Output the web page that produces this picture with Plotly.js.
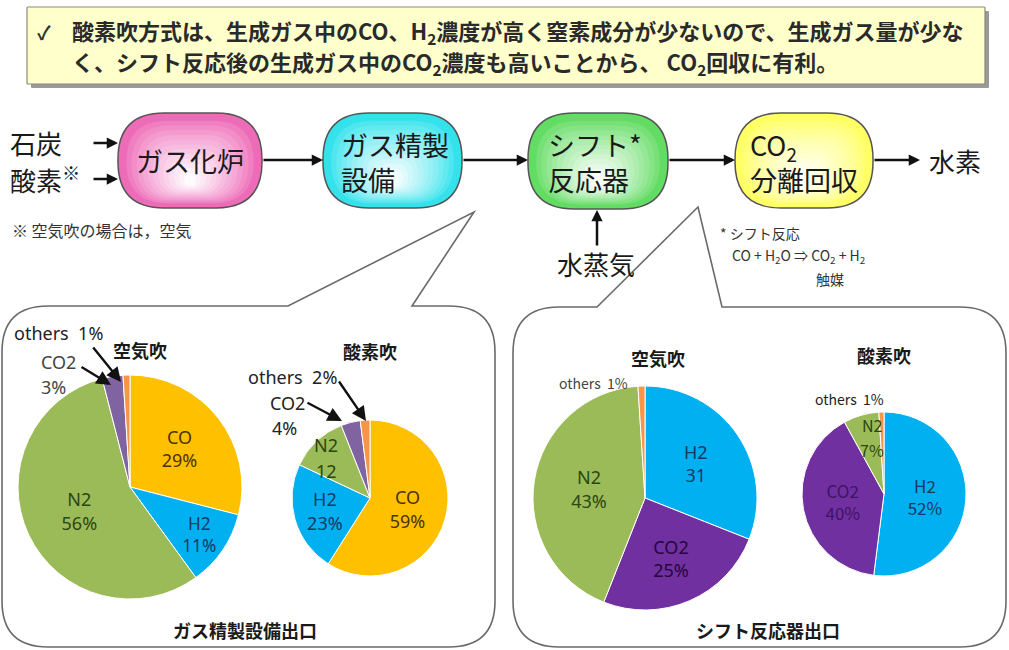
<!DOCTYPE html>
<html><head><meta charset="utf-8">
<script src="https://cdn.plot.ly/plotly-3.0.1.min.js"></script>
<style>body{margin:0;background:#fff}#chart{width:1009px;height:650px}</style>
</head><body><div id="chart"></div>
<script>
// ---- data ----
const pieLabelsRefine = ["CO", "H2", "N2", "CO2", "others"];
const refineAirValues = [29, 11, 56, 3, 1];
const refineAirText = ["CO<br>29%", "H2<br>11%", "N2<br>56%", "", ""];
const refineOxyValues = [59, 23, 12, 4, 2];
const refineOxyText = ["CO<br>59%", "H2<br>23%", "", "", ""];
const pieLabelsShift = ["H2", "CO2", "N2", "others"];
const shiftAirValues = [31, 25, 43, 1];
const shiftAirText = ["H2<br>31", "CO2<br>25%", "N2<br>43%", ""];
const shiftOxyValues = [52, 40, 7, 1];
const shiftOxyText = ["H2<br>52%", "CO2<br>40%", "", ""];
const pieTitles = ["空気吹", "酸素吹", "空気吹", "酸素吹"];
const groupTitles = ["ガス精製設備出口", "シフト反応器出口"];
const processSteps = ["ガス化炉", "ガス精製<br>設備", "シフト*<br>反応器", "CO<sub>2</sub><br>分離回収"];
const noteText = ["✓", "酸素吹方式は、生成ガス中のCO、H<sub>2</sub>濃度が高く窒素成分が少ないので、生成ガス量が少な",
  "く、シフト反応後の生成ガス中のCO<sub>2</sub>濃度も高いことから、 CO<sub>2</sub>回収に有利。"];

// ---- helpers ----
const W = 1009, H = 650;
const X = x => x / W, Y = y => 1 - y / H;
const JP = '"Noto Sans CJK JP", sans-serif';
const LAT = '"Noto Sans", "Liberation Sans", sans-serif';

function rr(x0, y0, x1, y1, r) {
  const p = (x, y) => X(x) + ',' + Y(y);
  return 'M' + p(x0 + r, y0) + ' L' + p(x1 - r, y0) + ' Q' + p(x1, y0) + ' ' + p(x1, y0 + r) +
    ' L' + p(x1, y1 - r) + ' Q' + p(x1, y1) + ' ' + p(x1 - r, y1) +
    ' L' + p(x0 + r, y1) + ' Q' + p(x0, y1) + ' ' + p(x0, y1 - r) +
    ' L' + p(x0, y0 + r) + ' Q' + p(x0, y0) + ' ' + p(x0 + r, y0) + ' Z';
}
function callout(x0, y0, x1, y1, r, b0, b1, ax, ay) {
  const p = (x, y) => X(x) + ',' + Y(y);
  return 'M' + p(b0, y0) + ' L' + p(x0 + r, y0) + ' Q' + p(x0, y0) + ' ' + p(x0, y0 + r) +
    ' L' + p(x0, y1 - r) + ' Q' + p(x0, y1) + ' ' + p(x0 + r, y1) +
    ' L' + p(x1 - r, y1) + ' Q' + p(x1, y1) + ' ' + p(x1, y1 - r) +
    ' L' + p(x1, y0 + r) + ' Q' + p(x1, y0) + ' ' + p(x1 - r, y0) +
    ' L' + p(b1, y0) + ' L' + p(ax, ay) + ' Z';
}
function hex2rgb(h) { return [1, 3, 5].map(i => parseInt(h.substr(i, 2), 16)); }
function lerp(c, t) { const a = hex2rgb(c); return 'rgb(' + a.map(v => Math.round(v + (255 - v) * t)).join(',') + ')'; }

const shapes = [];
// note box with shadow
shapes.push({type: 'path', path: rr(31, 11, 989, 88, 1), fillcolor: '#9a9a9a', line: {width: 0}, layer: 'below'});
shapes.push({type: 'path', path: rr(27, 7, 985, 84, 1), fillcolor: '#FFFFCC', line: {color: '#8a8a7a', width: 1.2}, layer: 'below'});

// process boxes with stepped gradient
const boxes = [[118, 113, 262, 208, '#EE6BB8'], [323, 113, 462, 208, '#34E2EC'], [528, 113, 668, 209, '#62DC62'], [735, 113, 873, 208, '#FFFF66']];
boxes.forEach(([x0, y0, x1, y1, c]) => {
  const R = 46;
  shapes.push({type: 'path', path: rr(x0, y0, x1, y1, R), fillcolor: c, line: {color: '#555', width: 1.5}, layer: 'below'});
  const n = 12;
  for (let i = 1; i <= n; i++) {
    const t = i / n;
    const ix = (x1 - x0) * 0.44 * t, iyT = (y1 - y0) * 0.6 * t, iyB = (y1 - y0) * 0.2 * t;
    const w = x1 - x0 - 6 - 2 * ix, h = y1 - y0 - 6 - iyT - iyB;
    const rad = Math.max(2, Math.min(R * (1 - t * 0.6), w / 2, h / 2));
    shapes.push({type: 'path', path: rr(x0 + 3 + ix, y0 + 3 + iyT, x1 - 3 - ix, y1 - 3 - iyB, rad),
      fillcolor: lerp(c, 0.97 * Math.pow(t, 0.8)), line: {width: 0}, layer: 'below'});
  }
});

// callout outlines
shapes.push({type: 'path', path: callout(2, 306, 495, 647, 46, 288, 412, 474, 212), line: {color: '#6a6a6a', width: 1.6}, layer: 'below'});
shapes.push({type: 'path', path: callout(513, 307, 1006, 647, 46, 597, 722, 698, 207), line: {color: '#6a6a6a', width: 1.6}, layer: 'below'});

// ---- pies ----
function pie(cx, cy, r, labels, values, text, colors, tcolors, fam, size) {
  return {type: 'pie', labels: labels, values: values, text: text, textinfo: 'text', textposition: 'inside',
    insidetextorientation: 'horizontal', sort: false, direction: 'clockwise', rotation: 0,
    domain: {x: [X(cx - r), X(cx + r)], y: [Y(cy + r), Y(cy - r)]},
    marker: {colors: colors, line: {color: '#ffffff', width: 1}},
    insidetextfont: {family: fam, size: size, color: tcolors}, showlegend: false, hoverinfo: 'label+value'};
}
const cRef = ['#FFC000', '#00B0F0', '#9BBB59', '#8064A2', '#F79646'];
const tRef = ['#4a3300', '#153a66', '#2a4710', '#2b1a45', '#000'];
const cShift = ['#00B0F0', '#7030A0', '#9BBB59', '#F79646'];
const tShift = ['#153a66', '#26063e', '#2a4710', '#000'];
const data = [
  pie(130, 487, 112, pieLabelsRefine, refineAirValues, refineAirText, cRef, tRef, LAT, 18),
  pie(370, 498, 78, pieLabelsRefine, refineOxyValues, refineOxyText, cRef, tRef, LAT, 18),
  pie(645, 498, 112, pieLabelsShift, shiftAirValues, shiftAirText, cShift, tShift, LAT, 18),
  pie(884, 494, 82, pieLabelsShift, shiftOxyValues, shiftOxyText, cShift, ['#153a66', '#3d1466', '#2a4710', '#000'], JP, 17)
];

// ---- annotations ----
const ann = [];
function txt(x, y, t, size, opt) {
  ann.push(Object.assign({xref: 'paper', yref: 'paper', x: X(x), y: Y(y), text: t, showarrow: false,
    font: {family: JP, size: size, color: '#1a1a1a'}, xanchor: 'center', yanchor: 'middle'}, opt || {}));
}
function arrow(x, y, tx, ty, w, hs) {
  ann.push({xref: 'paper', yref: 'paper', x: X(x), y: Y(y), ax: tx - x, ay: ty - y, text: '', showarrow: true,
    arrowhead: 2, arrowsize: hs || 1, arrowwidth: w || 2.2, arrowcolor: '#111', standoff: 0});
}
// note
txt(44, 32, '<b>' + noteText[0] + '</b>', 19, {font: {family: JP, size: 19, color: '#333'}});
txt(70, 32, '<b>' + noteText[1] + '</b>', 22, {xanchor: 'left', font: {family: JP, size: 22, color: '#2a2a2a'}});
txt(70, 63, '<b>' + noteText[2] + '</b>', 22, {xanchor: 'left', font: {family: JP, size: 22, color: '#2a2a2a'}});
// process
txt(190, 160, processSteps[0], 27);
txt(339, 162, processSteps[1], 27, {xanchor: 'left', align: 'left'});
txt(546, 162, processSteps[2], 27, {xanchor: 'left', align: 'left'});
txt(748, 162, processSteps[3], 27, {xanchor: 'left', align: 'left'});
txt(8, 143, '石炭', 26, {xanchor: 'left'});
txt(8, 179, '酸素<sup>※</sup>', 26, {xanchor: 'left'});
txt(10, 230, '※ 空気吹の場合は，空気', 16, {xanchor: 'left', font: {family: JP, size: 16, color: '#333'}});
txt(927, 160, '水素', 26, {xanchor: 'left'});
txt(555, 263, '水蒸気', 26, {xanchor: 'left'});
txt(718, 233, '* シフト反応', 14, {xanchor: 'left', font: {family: JP, size: 14, color: '#333'}});
txt(730, 256, 'CO + H<sub>2</sub>O ⇒ CO<sub>2</sub> + H<sub>2</sub>', 14, {xanchor: 'left', font: {family: JP, size: 14, color: '#333'}});
txt(830, 279, '触媒', 14, {font: {family: JP, size: 14, color: '#333'}});
// flow arrows
arrow(118, 143, 92, 143, 2.5, 0.9);
arrow(118, 179, 92, 179, 2.5, 0.9);
arrow(323, 160, 262, 160, 2.5, 0.9);
arrow(528, 160, 462, 160, 2.5, 0.9);
arrow(735, 160, 668, 160, 2.5, 0.9);
arrow(920, 160, 873, 160, 2.5, 0.9);
arrow(597, 210, 597, 247, 2.5, 0.9);
// pie titles
txt(140, 350, '<b>' + pieTitles[0] + '</b>', 18);
txt(370, 351, '<b>' + pieTitles[1] + '</b>', 18);
txt(658, 358, '<b>' + pieTitles[2] + '</b>', 18);
txt(884, 355, '<b>' + pieTitles[3] + '</b>', 18);
txt(245, 630, '<b>' + groupTitles[0] + '</b>', 18);
txt(768, 630, '<b>' + groupTitles[1] + '</b>', 18);
// small slice labels
const lf = {family: LAT, size: 18, color: '#222'};
txt(12, 333, 'others  ' + refineAirValues[4] + '%', 18, {xanchor: 'left', font: lf});
txt(39, 362, pieLabelsRefine[3], 18, {xanchor: 'left', font: {family: LAT, size: 18, color: '#444'}});
txt(39, 387, refineAirValues[3] + '%', 18, {xanchor: 'left', font: {family: LAT, size: 18, color: '#444'}});
arrow(121, 382, 92, 346, 2.4, 1.2);
arrow(111, 385, 80, 366, 2.4, 1.2);
txt(246, 377, 'others  ' + refineOxyValues[4] + '%', 18, {xanchor: 'left', font: lf});
txt(268, 403, pieLabelsRefine[3], 18, {xanchor: 'left', font: lf});
txt(270, 428, refineOxyValues[3] + '%', 18, {xanchor: 'left', font: lf});
arrow(366, 421, 338, 380, 2.4, 1.2);
arrow(342, 421, 306, 402, 2.4, 1.2);
txt(326, 445, pieLabelsRefine[2], 18, {font: {family: LAT, size: 18, color: '#2a4710'}});
txt(326, 471, String(refineOxyValues[2]), 18, {font: {family: LAT, size: 18, color: '#2a4710'}});
txt(557, 383, 'others  ' + shiftAirValues[3] + '%', 14, {xanchor: 'left', font: {family: JP, size: 14, color: '#444'}});
txt(813, 399, 'others  ' + shiftOxyValues[3] + '%', 14, {xanchor: 'left', font: {family: JP, size: 14, color: '#222'}});
txt(872, 425, pieLabelsShift[2], 16, {font: {family: JP, size: 16, color: '#2a4710'}});
txt(872, 450, shiftOxyValues[2] + '%', 16, {font: {family: JP, size: 16, color: '#2a4710'}});

const layout = {width: W, height: H, margin: {l: 0, r: 0, t: 0, b: 0}, paper_bgcolor: '#fff', plot_bgcolor: '#fff',
  showlegend: false, shapes: shapes, annotations: ann};
Plotly.newPlot('chart', data, layout, {displayModeBar: false, staticPlot: true});
</script></body></html>
